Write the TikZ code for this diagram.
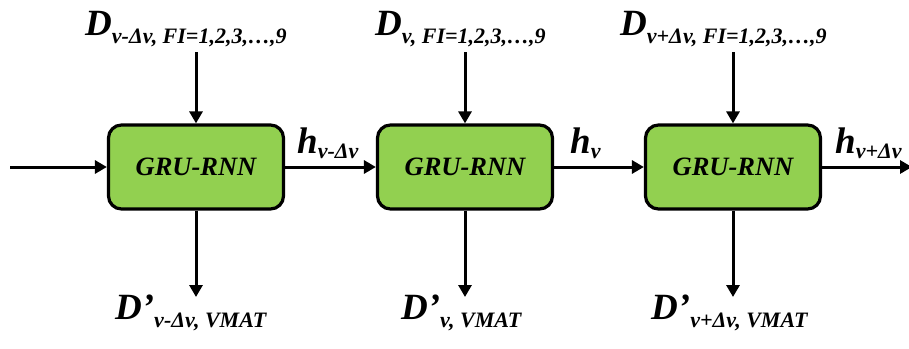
\documentclass[tikz,border=0pt]{standalone}
\usepackage{fontspec}
\setmainfont{Liberation Serif}[BoldItalicFont={Liberation Serif Bold Italic}]
\usetikzlibrary{arrows.meta}
\definecolor{boxgreen}{HTML}{92D050}
\newcommand{\bigf}{\fontsize{37}{37}\selectfont}
\newcommand{\subf}{\fontsize{22}{22}\selectfont}
\newcommand{\lab}[2]{{\rmfamily\bfseries\itshape\bigf #1\subf\raisebox{-8pt}{#2}}}
\begin{document}
\begin{tikzpicture}[x=1pt,y=-1pt,
  gru/.style={draw=black,fill=boxgreen,line width=3.2pt,rounded corners=13pt,
    minimum width=175pt,minimum height=84pt,inner sep=0pt,
    font=\rmfamily\bfseries\itshape\fontsize{26.5}{26.5}\selectfont},
  arr/.style={line width=3pt,-{Triangle[length=12pt,width=13pt]}},
  txt/.style={anchor=base west,inner sep=0pt}]
\useasboundingbox (0,0) rectangle (909,348);
\node[gru] (b1) at (196,167) {GRU-RNN};
\node[gru] (b2) at (465,167) {GRU-RNN};
\node[gru] (b3) at (733,167) {GRU-RNN};
% top labels
\node[txt] (t1) at (85,35) {\lab{D}{v-\textit{Δ}v, FI=1,2,3,…,9}};
\node[txt] (t2) at (375,35) {\lab{D}{v, FI=1,2,3,…,9}};
\node[txt] (t3) at (620,35) {\lab{D}{v+\textit{Δ}v, FI=1,2,3,…,9}};
% bottom labels
\node[txt] (o1) at (115,319) {\lab{D’}{v-\textit{Δ}v, VMAT}};
\node[txt] (o2) at (401,319) {\lab{D’}{v, VMAT}};
\node[txt] (o3) at (651,319) {\lab{D’}{v+\textit{Δ}v, VMAT}};
% h labels
\node[txt] (h1) at (297,153) {{\rmfamily\bfseries\itshape\bigf h\subf\raisebox{-5pt}{v-\textit{Δ}v}}};
\node[txt] (h2) at (570,153) {{\rmfamily\bfseries\itshape\bigf h\subf\raisebox{-5pt}{v}}};
\node[txt] (h3) at (835,153) {{\rmfamily\bfseries\itshape\bigf h\subf\raisebox{-5pt}{v+\textit{Δ}v}}};
\coordinate (in) at (10,167);
\coordinate (out) at (912,167);
% arrows
\draw[arr] (in) -- (b1.west);
\draw[arr] (b1.east) -- (b2.west);
\draw[arr] (b2.east) -- (b3.west);
\draw[arr] (b3.east) -- (out);
\foreach \i in {1,2,3}{
  \draw[arr] (b\i.north |- 0,52) -- (b\i.north);
  \draw[arr] (b\i.south) -- (b\i.south |- 0,297);
}
\end{tikzpicture}
\end{document}
